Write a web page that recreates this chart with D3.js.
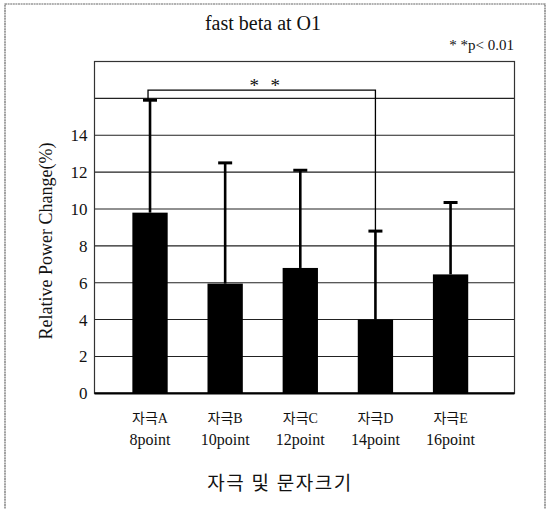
<!DOCTYPE html>
<html>
<head>
<meta charset="utf-8">
<script src="https://cdn.jsdelivr.net/npm/d3@7"></script>
<style>
  body { margin: 0; background: #fff; }
  svg { display: block; }
  text { font-family: "Liberation Serif", "Noto Sans CJK KR", serif; fill: #111; }
</style>
</head>
<body>
<svg id="svg" width="551" height="509"></svg>
<script>
// data
const stimuli = ["자극A", "자극B", "자극C", "자극D", "자극E"];
const fontSizes = ["8point", "10point", "12point", "14point", "16point"];
const means = [9.8, 5.95, 6.8, 4.0, 6.45];
const sds = [6.1, 6.55, 5.3, 4.8, 3.9];
const yTicks = [0, 2, 4, 6, 8, 10, 12, 14];
const gridValues = [2, 4, 6, 8, 10, 12, 14, 16];

var margin = {top: 61.5, right: 36.5, bottom: 115.7, left: 94.5};
var width = 551 - margin.left - margin.right;
var height = 509 - margin.top - margin.bottom;

const svg = d3.select("#svg");

// outer frame of the scanned figure
svg.append("rect")
  .attr("x", 5).attr("y", 4)
  .attr("width", 540).attr("height", 530)
  .attr("fill", "none")
  .attr("stroke", "#666")
  .attr("stroke-width", 1.2)
  .attr("stroke-dasharray", "2,0.6");

const data = stimuli.map((s, i) => ({stim: s, size: fontSizes[i], mean: means[i], sd: sds[i]}));

var x = d3.scaleBand()
  .domain(stimuli)
  .range([0, width])
  .paddingInner(0.53)
  .paddingOuter(0.56)
  .align(0.45);

var y = d3.scaleLinear().domain([0, 18]).range([height, 0]);

const g = svg.append("g")
  .attr("transform", "translate(" + margin.left + "," + margin.top + ")");

// horizontal grid lines
g.append("g")
  .selectAll("line")
  .data(gridValues)
  .enter().append("line")
    .attr("x1", 0).attr("x2", width)
    .attr("y1", d => y(d)).attr("y2", d => y(d))
    .attr("stroke", "#222")
    .attr("stroke-width", 1.1);

// plot box
g.append("rect")
  .attr("width", width).attr("height", height)
  .attr("fill", "none")
  .attr("stroke", "#333")
  .attr("stroke-width", 1.2);

// y tick labels
g.append("g")
  .selectAll("text")
  .data(yTicks)
  .enter().append("text")
    .attr("x", -7)
    .attr("y", d => y(d))
    .attr("dy", "0.35em")
    .attr("text-anchor", "end")
    .style("font-size", "17px")
    .text(d => d);

// error bars (upper only)
const err = g.append("g").attr("class", "errors");
err.selectAll("line.stem")
  .data(data)
  .enter().append("line")
    .attr("class", "stem")
    .attr("x1", d => x(d.stim) + x.bandwidth() / 2)
    .attr("x2", d => x(d.stim) + x.bandwidth() / 2)
    .attr("y1", d => y(d.mean))
    .attr("y2", d => y(d.mean + d.sd))
    .attr("stroke", "#000")
    .attr("stroke-width", 2.6);

err.selectAll("line.cap")
  .data(data)
  .enter().append("line")
    .attr("class", "cap")
    .attr("x1", d => x(d.stim) + x.bandwidth() / 2 - 7)
    .attr("x2", d => x(d.stim) + x.bandwidth() / 2 + 7)
    .attr("y1", d => y(d.mean + d.sd))
    .attr("y2", d => y(d.mean + d.sd))
    .attr("stroke", "#000")
    .attr("stroke-width", 3);

// bars
g.append("g")
  .selectAll("rect")
  .data(data)
  .enter().append("rect")
    .attr("x", d => x(d.stim))
    .attr("y", d => y(d.mean))
    .attr("width", x.bandwidth())
    .attr("height", d => y(0) - y(d.mean))
    .attr("fill", "#000");

// baseline
g.append("line")
  .attr("x1", 0).attr("x2", width)
  .attr("y1", y(0)).attr("y2", y(0))
  .attr("stroke", "#000")
  .attr("stroke-width", 2.2);

// significance bracket between A and D
const a = data[0], d4 = data[3];
const bracketY = y(16.45);
const ax = x(a.stim) + x.bandwidth() / 2 - 2;
const dx = x(d4.stim) + x.bandwidth() / 2;
g.append("path")
  .attr("d", "M" + ax + "," + y(a.mean + a.sd) + "V" + bracketY + "H" + dx + "V" + y(d4.mean + d4.sd))
  .attr("fill", "none")
  .attr("stroke", "#000")
  .attr("stroke-width", 1.3);

const mid = (ax + dx) / 2;
g.selectAll("text.star")
  .data([-10.5, 10.5])
  .enter().append("text")
    .attr("class", "star")
    .attr("x", d => mid + 3 + d)
    .attr("y", bracketY + 2)
    .attr("text-anchor", "middle")
    .style("font-size", "19px")
    .text("*");

// x labels, two lines each
const xl = g.append("g")
  .selectAll("g")
  .data(data)
  .enter().append("g")
    .attr("transform", d => "translate(" + (x(d.stim) + x.bandwidth() / 2) + "," + height + ")");
xl.append("text")
  .attr("y", 30)
  .attr("text-anchor", "middle")
  .style("font-size", "14px")
  .text(d => d.stim);
xl.append("text")
  .attr("y", 52)
  .attr("text-anchor", "middle")
  .style("font-size", "16px")
  .text(d => d.size);

// axis titles
svg.append("text")
  .attr("x", 280)
  .attr("y", 490)
  .attr("text-anchor", "middle")
  .style("font-size", "19px")
  .style("letter-spacing", "1.5px")
  .text("자극 및 문자크기");

svg.append("text")
  .attr("transform", "translate(52,241) rotate(-90)")
  .attr("text-anchor", "middle")
  .style("font-size", "18px")
  .text("Relative Power Change(%)");

// title and note
svg.append("text")
  .attr("x", 263)
  .attr("y", 30)
  .attr("text-anchor", "middle")
  .style("font-size", "20px")
  .text("fast beta at O1");

svg.append("text")
  .attr("x", 514)
  .attr("y", 50)
  .attr("text-anchor", "end")
  .style("font-size", "15px")
  .text("* *p< 0.01");
</script>
</body>
</html>
